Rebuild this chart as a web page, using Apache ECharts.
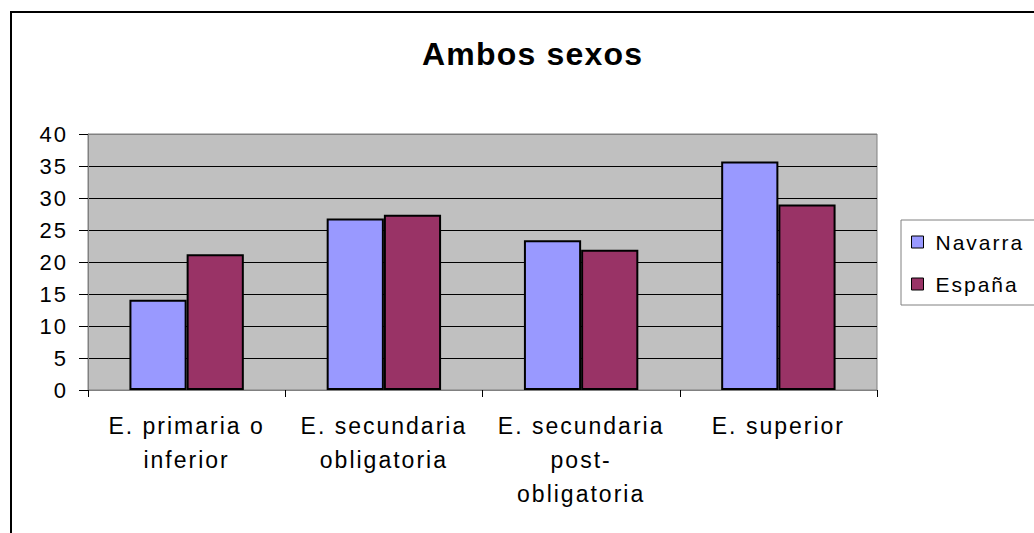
<!DOCTYPE html>
<html>
<head>
<meta charset="utf-8">
<script src="https://cdn.jsdelivr.net/npm/echarts@6/dist/echarts.min.js"></script>
<style>
  html, body { margin: 0; padding: 0; background: #fff; }
  #chart { width: 1034px; height: 533px; }
  #chart svg text { letter-spacing: 2px; }
  #chart svg text[style*="bold"] { letter-spacing: 1.2px; }
</style>
</head>
<body>
<div id="chart"></div>
<script>
const titleText = 'Ambos sexos';
const categories = ['E. primaria o\ninferior', 'E. secundaria\nobligatoria', 'E. secundaria\npost-\nobligatoria', 'E. superior'];
const seriesNames = ['Navarra', 'España'];
const navarra = [14.1, 26.8, 23.4, 35.7];
const espana = [21.2, 27.4, 21.9, 29.0];
const yTicks = { min: 0, max: 40, interval: 5 };

const FONT = '"Liberation Sans", Arial, sans-serif';
const chart = echarts.init(document.getElementById('chart'), null, { renderer: 'svg' });
chart.setOption({
  animation: false,
  backgroundColor: '#ffffff',
  graphic: [{
    type: 'rect',
    shape: { x: 11, y: 12, width: 1100, height: 600 },
    style: { fill: 'none', stroke: '#000', lineWidth: 2 },
    z: 100
  }],
  title: {
    text: titleText,
    left: 417,
    top: 33,
    textStyle: { fontFamily: FONT, fontSize: 32, fontWeight: 'bold', color: '#000' }
  },
  legend: {
    data: seriesNames,
    orient: 'vertical',
    left: 901,
    top: 220,
    padding: [11, 40, 10, 10],
    itemGap: 20,
    itemWidth: 12,
    itemHeight: 12,
    icon: 'rect',
    borderColor: '#808080',
    borderWidth: 1,
    backgroundColor: '#fff',
    itemStyle: { borderColor: '#000', borderWidth: 1 },
    textStyle: { fontFamily: FONT, fontSize: 21, lineHeight: 22, color: '#000', padding: [0, 0, 0, 7] }
  },
  grid: {
    left: 88, right: 157, top: 134, bottom: 143,
    show: true,
    backgroundColor: '#C0C0C0',
    borderColor: '#808080',
    borderWidth: 1
  },
  xAxis: {
    type: 'category',
    data: categories,
    boundaryGap: true,
    axisLine: { show: true, lineStyle: { color: '#808080', width: 1 } },
    axisTick: { show: true, length: 7, alignWithLabel: false, lineStyle: { color: '#000' } },
    axisLabel: { fontFamily: FONT, fontSize: 23, lineHeight: 34, color: '#000', margin: 19, interval: 0 }
  },
  yAxis: {
    type: 'value',
    min: yTicks.min, max: yTicks.max, interval: yTicks.interval,
    axisLine: { show: true, lineStyle: { color: '#808080', width: 1 } },
    axisTick: { show: true, length: 9, inside: false, lineStyle: { color: '#000' } },
    axisLabel: { fontFamily: FONT, fontSize: 22, color: '#000', margin: 20 },
    splitLine: { show: true, lineStyle: { color: ['transparent', '#000', '#000', '#000', '#000', '#000', '#000', '#000', '#808080'], width: 1 } }
  },
  series: [
    {
      name: seriesNames[0], type: 'bar', data: navarra,
      barGap: '0%', barCategoryGap: '42%',
      itemStyle: { color: '#9999FF', borderColor: '#000', borderWidth: 2 }
    },
    {
      name: seriesNames[1], type: 'bar', data: espana,
      barGap: '0%', barCategoryGap: '42%',
      itemStyle: { color: '#993366', borderColor: '#000', borderWidth: 2 }
    }
  ]
});
</script>
</body>
</html>
